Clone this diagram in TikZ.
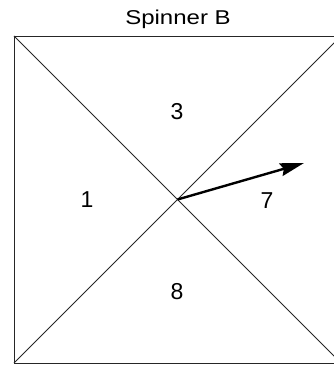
\documentclass[tikz,border=0pt]{standalone}
\usepackage{fontspec}
\setmainfont{Liberation Sans}
\usetikzlibrary{arrows.meta}
\begin{document}
\begin{tikzpicture}[x=1pt,y=-1pt,
  thinline/.style={line width=0.9pt,draw=black!85},
  digit/.style={font=\fontsize{23}{23}\selectfont,inner sep=0pt},
  pointer/.style={line width=2.4pt,-{Stealth[length=24pt,width=13pt,inset=3pt]}}]
\useasboundingbox (0,0) rectangle (333,366);
\node[inner sep=0pt] (title) at (178,19) {\scalebox{1.2}[1]{\fontsize{20}{20}\selectfont Spinner B}};
\coordinate (tl) at (14,36);
\coordinate (tr) at (341,36);
\coordinate (br) at (341,363);
\coordinate (bl) at (14,363);
\coordinate (c) at (177.5,199.5);
\coordinate (tip) at (304,163);
\draw[thinline] (tl) -- (tr) -- (br) -- (bl) -- cycle;
\draw[thinline] (tl) -- (br);
\draw[thinline] (tr) -- (bl);
\node[digit] (n3) at (177,112) {3};
\node[digit] (n1) at (87,200) {1};
\node[digit] (n7) at (267,201) {7};
\node[digit] (n8) at (177,292) {8};
\draw[pointer] (c) -- (tip);
\end{tikzpicture}
\end{document}
